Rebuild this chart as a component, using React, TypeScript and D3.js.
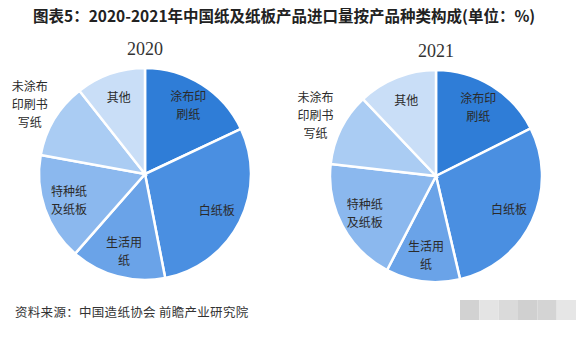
import React from "react";
import * as d3 from "d3";

const categories = ["涂布印刷纸", "白纸板", "生活用纸", "特种纸及纸板", "未涂布印刷书写纸", "其他"];
const labelLines = [["涂布印", "刷纸"], ["白纸板"], ["生活用", "纸"], ["特种纸", "及纸板"], ["未涂布", "印刷书", "写纸"], ["其他"]];
const values2020 = [18.0, 28.9, 14.5, 16.4, 11.5, 10.6];
const values2021 = [17.6, 28.8, 11.3, 19.2, 11.1, 12.1];
const years = ["2020", "2021"];
const colors = ["#2f7dd7", "#4a8fe1", "#6aa3e8", "#8bb8ee", "#aaccf3", "#c9def7"];
const outsideCategory = "未涂布印刷书写纸";
const title = "图表5：2020-2021年中国纸及纸板产品进口量按产品种类构成(单位：%)";
const source = "资料来源：中国造纸协会 前瞻产业研究院";
const blurShades = ["#d2d2d2", "#e4e4e4", "#dadada", "#d0d0d0", "#d4d4d4", "#e6e6e6"];

const W = 576;
const H = 337;
const R = 106;
const cjk = "'Noto Sans CJK SC', 'Noto Sans', sans-serif";

function Pie({ values, cx, cy, year }: { values: number[]; cx: number; cy: number; year: string }) {
  const pie = d3.pie<number>().sort(null).value((d) => d);
  const arcs = pie(values);
  const arc = d3.arc<d3.PieArcDatum<number>>().innerRadius(0).outerRadius(R);
  const inLabel = d3.arc<d3.PieArcDatum<number>>().innerRadius(R * 0.76).outerRadius(R * 0.76);
  const outLabel = d3.arc<d3.PieArcDatum<number>>().innerRadius(R * 1.27).outerRadius(R * 1.27);
  const lh = 18;
  return (
    <g transform={`translate(${cx},${cy})`}>
      <text x={0} y={-R - 13} textAnchor="middle" fontFamily="'Liberation Serif', 'DejaVu Serif', serif" fontSize={18} fill="#333">
        {year}
      </text>
      {arcs.map((a, i) => (
        <path key={i} d={arc(a) || ""} fill={colors[i]} stroke="#fff" strokeWidth={2.5} />
      ))}
      {arcs.map((a, i) => {
        const outside = categories[i] === outsideCategory;
        const [x, y] = (outside ? outLabel : inLabel).centroid(a);
        const lines = labelLines[i];
        const y0 = y - ((lines.length - 1) * lh) / 2;
        return (
          <text key={"l" + i} textAnchor="middle" fontFamily={cjk} fontSize={12} fill="#2a2a2a">
            {lines.map((ln, j) => (
              <tspan key={j} x={x} y={y0 + j * lh} dy="0.35em">
                {ln}
              </tspan>
            ))}
          </text>
        );
      })}
    </g>
  );
}

export default function App() {
  const blurX = d3.scaleBand<number>().domain(d3.range(blurShades.length)).range([460, 576]);
  return (
    <svg width={W} height={H} style={{ position: "absolute", left: 0, top: 0, display: "block", background: "#fff" }}>
      <rect width={W} height={H} fill="#fff" />
      <text x={33} y={22} fontFamily={cjk} fontWeight="bold" fontSize={15.5} fill="#222">
        {title}
      </text>
      <Pie values={values2020} cx={145} cy={174} year={years[0]} />
      <Pie values={values2021} cx={436} cy={176} year={years[1]} />
      <text x={15} y={317} fontFamily={cjk} fontSize={12.5} fill="#333" letterSpacing={0.3}>
        {source}
      </text>
      {blurShades.map((c, i) => (
        <rect key={i} x={blurX(i)} y={300} width={blurX.bandwidth()} height={20} fill={c} />
      ))}
    </svg>
  );
}
